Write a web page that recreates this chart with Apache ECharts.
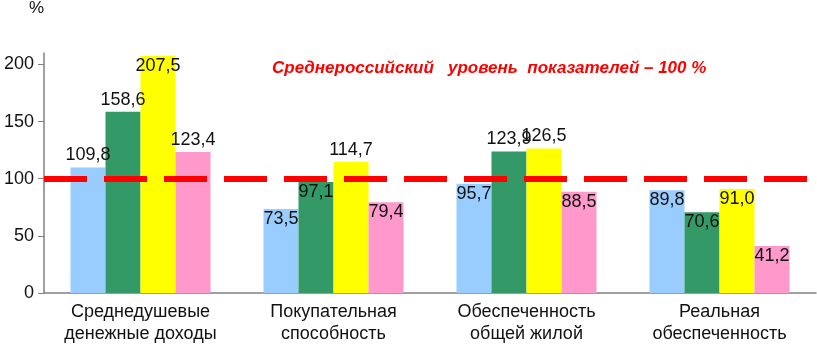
<!DOCTYPE html>
<html>
<head>
<meta charset="utf-8">
<script src="https://cdn.jsdelivr.net/npm/echarts@6/dist/echarts.min.js"></script>
<style>
html, body { margin: 0; padding: 0; background: #fff; }
#main { width: 817px; height: 345px; }
</style>
</head>
<body>
<div id="main"></div>
<script>
var categories = ['Среднедушевые\nденежные доходы', 'Покупательная\nспособность', 'Обеспеченность\nобщей жилой', 'Реальная\nобеспеченность'];
var s1 = [109.8, 73.5, 95.7, 89.8];
var s2 = [158.6, 97.1, 123.9, 70.6];
var s3 = [207.5, 114.7, 126.5, 91.0];
var s4 = [123.4, 79.4, 88.5, 41.2];
var yTicks = [0, 50, 100, 150, 200];
var avgLevel = 100;

var colors = ['#99ccff', '#339966', '#ffff00', '#ff99cc'];

function makeData(arr) {
	// above the bar when between the average line and the top, else inside
	return arr.map(function (v) {
		var pos = (v > avgLevel && v < 200) ? 'top' : 'insideTop';
		return { value: v, label: { position: pos, distance: pos == 'top' ? 3 : 1 } };
	});
}

function makeSeries(arr, i) {
	var s = {
		type: 'bar',
		data: makeData(arr),
		barWidth: 35,
		barGap: '0%',
		itemStyle: { color: colors[i] },
		label: {
			show: true,
			color: '#111',
			fontFamily: 'Liberation Sans',
			fontSize: 18,
			formatter: function (p) { return p.value.toFixed(1).replace('.', ','); }
		},
		emphasis: { disabled: true }
	};
	if (i == 3) {
		s.markLine = {
			silent: true,
			symbol: 'none',
			label: { show: false },
			lineStyle: { color: '#ff0000', width: 6, type: [43, 17] },
			data: [{ yAxis: avgLevel }]
		};
	}
	return s;
}

var chart = echarts.init(document.getElementById('main'));
var option = {
	animation: false,
	backgroundColor: '#fff',
	grid: { left: 44, right: 1, top: 53, bottom: 51 },
	graphic: [
		{ type: 'text', left: 29, top: 0, style: { text: '%', font: '17px "Liberation Sans"', fill: '#111' } },
		{ type: 'text', left: 272, top: 60, style: { text: 'Среднероссийский   уровень  показателей – 100 %', font: 'italic bold 17px "Liberation Sans"', fill: '#ff0000' } }
	],
	xAxis: {
		type: 'category',
		data: categories,
		axisLine: { lineStyle: { color: '#808080', width: 1.5 } },
		axisTick: { show: false },
		axisLabel: { color: '#111', fontFamily: 'Liberation Sans', fontSize: 18, lineHeight: 22, margin: 8, interval: 0 }
	},
	yAxis: {
		type: 'value',
		min: 0,
		max: 210,
		splitLine: { show: false },
		axisLine: { show: true, lineStyle: { color: '#808080', width: 1.5 } },
		axisTick: { show: true, length: 6, customValues: yTicks, lineStyle: { color: '#808080' } },
		axisLabel: { color: '#111', fontFamily: 'Liberation Sans', fontSize: 18, margin: 10, customValues: yTicks }
	},
	series: [s1, s2, s3, s4].map(makeSeries)
};
chart.setOption(option);
</script>
</body>
</html>
